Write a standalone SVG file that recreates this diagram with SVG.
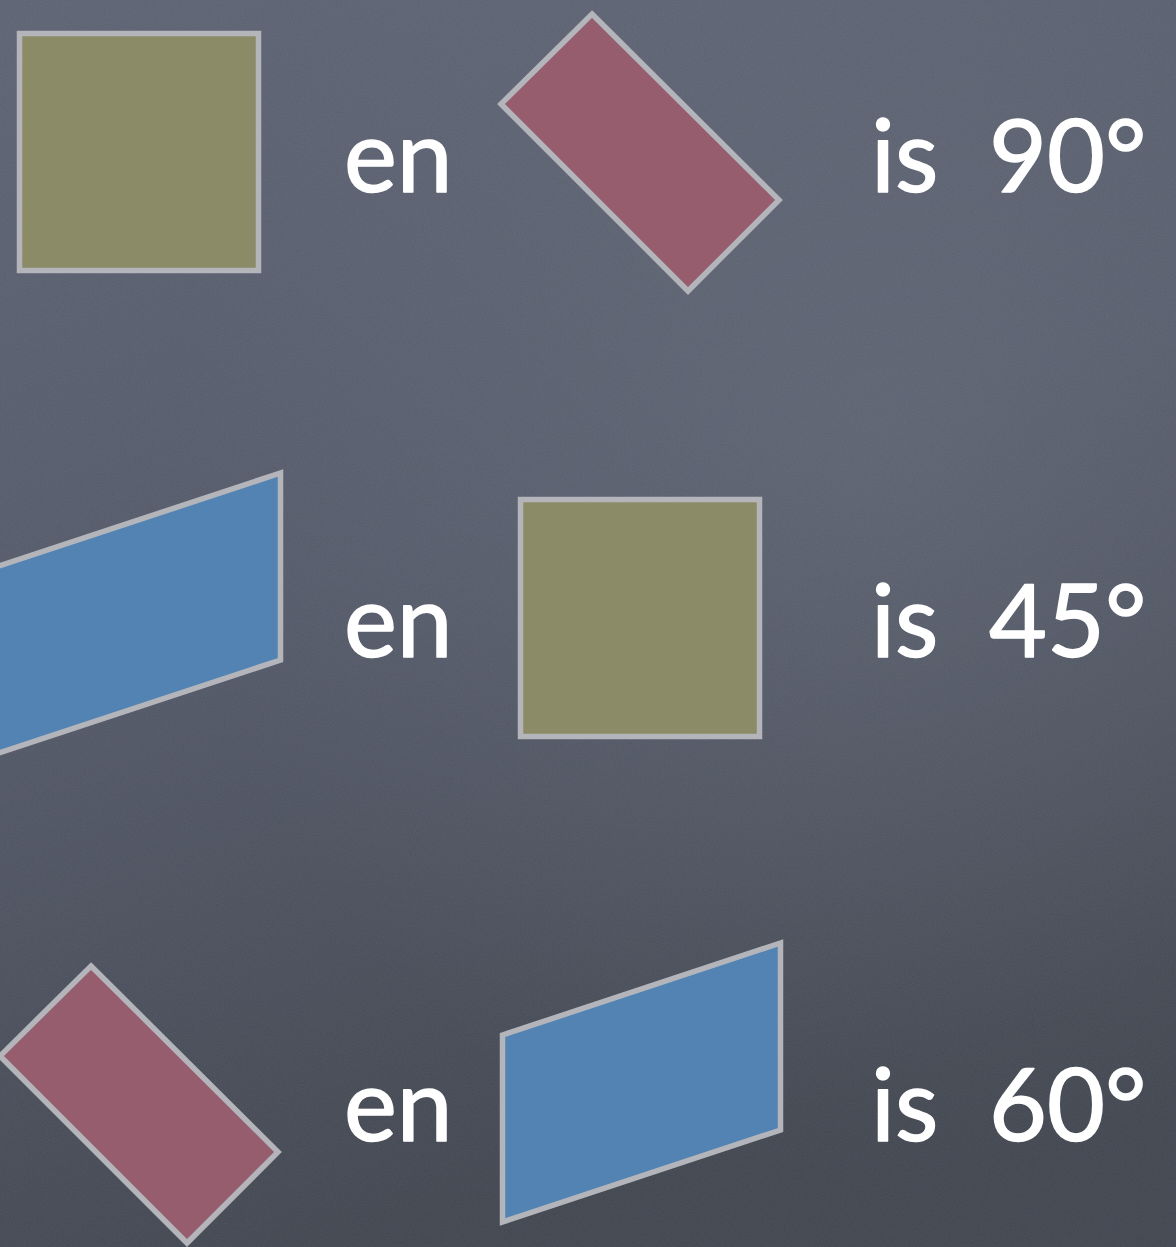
<svg xmlns="http://www.w3.org/2000/svg" width="1176" height="1247" viewBox="0 0 1176 1247">
  <defs>
    <linearGradient id="bg" x1="0" y1="0" x2="0.3" y2="1">
      <stop offset="0" stop-color="#5c6272"/>
      <stop offset="0.5" stop-color="#525867"/>
      <stop offset="1" stop-color="#40454f"/>
    </linearGradient>
    <radialGradient id="glow" cx="0.75" cy="0.35" r="0.6">
      <stop offset="0" stop-color="#6a707e" stop-opacity="0.45"/>
      <stop offset="1" stop-color="#6a707e" stop-opacity="0"/>
    </radialGradient>
    <filter id="chalk" x="0" y="0" width="100%" height="100%">
      <feTurbulence type="fractalNoise" baseFrequency="0.9" numOctaves="2" seed="3" result="n"/>
      <feColorMatrix type="matrix" values="0 0 0 0 1  0 0 0 0 1  0 0 0 0 1  0 0 0 0.12 0" />
    </filter>
  </defs>
  <style>
    .shape { stroke: #b3b5bb; stroke-width: 5.5; stroke-linejoin: miter; }
    .olive { fill: #8b8c67; }
    .red { fill: #955d6d; }
    .blue { fill: #5283b2; }
    .lbl { font-family: "Lato", "Open Sans", "DejaVu Sans", sans-serif; font-size: 100px; fill: #ffffff; stroke: #ffffff; stroke-width: 1.5; stroke-linejoin: round; word-spacing: 25px; }
  </style>
  <rect x="0" y="0" width="1176" height="1247" fill="url(#bg)"/>
  <rect x="0" y="0" width="1176" height="1247" fill="url(#glow)"/>
  <rect x="0" y="0" width="1176" height="1247" filter="url(#chalk)" opacity="0.6"/>

  <g id="row1">
    <g id="olive-square-1"><rect class="shape olive" x="19.5" y="33.5" width="239" height="237"/></g>
    <g id="label-en-1"><text class="lbl" x="344" y="192">en</text></g>
    <g id="red-rect-1"><polygon class="shape red" points="592,14 779,200 688,291 501,104"/></g>
    <g id="label-90"><text class="lbl" x="871" y="192">is 90°</text></g>
  </g>

  <g id="row2">
    <g id="blue-para-1"><polygon class="shape blue" points="-10,569 280.5,473 280.5,660 -10,756"/></g>
    <g id="label-en-2"><text class="lbl" x="344" y="657">en</text></g>
    <g id="olive-square-2"><rect class="shape olive" x="520.5" y="499.5" width="239" height="237"/></g>
    <g id="label-45"><text class="lbl" x="871" y="657">is 45°</text></g>
  </g>

  <g id="row3">
    <g id="red-rect-2"><polygon class="shape red" points="91,966 278,1152 187,1243 0,1056"/></g>
    <g id="label-en-3"><text class="lbl" x="344" y="1141">en</text></g>
    <g id="blue-para-2"><polygon class="shape blue" points="502.5,1035 780.5,943 780.5,1130 502.5,1222"/></g>
    <g id="label-60"><text class="lbl" x="871" y="1141">is 60°</text></g>
  </g>
  <g id="connectors"/>
</svg>
